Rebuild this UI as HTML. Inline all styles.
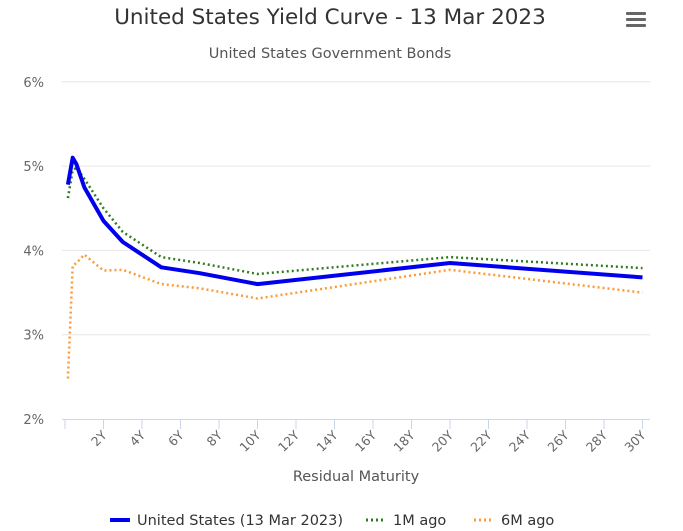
<!DOCTYPE html>
<html><head><meta charset="utf-8"><style>
body{margin:0;background:#fff;font-family:"DejaVu Sans","Liberation Sans",sans-serif}
svg{display:block}
</style></head><body>
<svg width="683" height="531" font-family="DejaVu Sans, Liberation Sans, sans-serif">
<text x="330" y="24" text-anchor="middle" font-size="21.5" fill="#333">United States Yield Curve - 13 Mar 2023</text>
<text x="330" y="58" text-anchor="middle" font-size="14.5" fill="#555">United States Government Bonds</text>
<g fill="#666">
<rect x="626" y="12" width="20" height="3" rx="1"/><rect x="626" y="18" width="20" height="3" rx="1"/><rect x="626" y="24" width="20" height="3" rx="1"/>
</g>
<g id="grid"></g><g id="xaxis"></g><g id="series"></g>
<text x="356" y="481" text-anchor="middle" font-size="14.5" fill="#555">Residual Maturity</text>
<g>
<g><line x1="110" y1="520" x2="130" y2="520" stroke="#0000ee" stroke-width="4"/><text x="137" y="525" font-size="14.5" fill="#333">United States (13 Mar 2023)</text></g>
<g><line x1="366" y1="520" x2="386" y2="520" stroke="#2e7d1e" stroke-width="3" stroke-dasharray="2,3"/><text x="393" y="525" font-size="14.5" fill="#333">1M ago</text></g>
<g><line x1="474" y1="520" x2="494" y2="520" stroke="#ff9933" stroke-width="3" stroke-dasharray="2,3"/><text x="501" y="525" font-size="14.5" fill="#333">6M ago</text></g>
</g>
</svg>
<script>
const maturities=[0.15,0.4,0.6,1,2,3,5,7,10,20,30];
const usNow=[4.78,5.1,5.02,4.75,4.35,4.1,3.8,3.73,3.6,3.85,3.68];
const us1M=[4.62,4.95,4.98,4.85,4.5,4.22,3.92,3.85,3.72,3.92,3.79];
const us6M=[2.48,3.82,3.85,3.95,3.76,3.77,3.6,3.55,3.43,3.77,3.5];
const yTicks=[2,3,4,5,6];
const xTicks=[2,4,6,8,10,12,14,16,18,20,22,24,26,28,30];
const NS="http://www.w3.org/2000/svg";
const X=v=>65+v*19.25, Y=v=>419-(v-2)*84.3;
function mk(t,a,p){const e=document.createElementNS(NS,t);for(const k in a)e.setAttribute(k,a[k]);p.appendChild(e);return e;}
const grid=document.getElementById('grid'),xa=document.getElementById('xaxis'),ser=document.getElementById('series');
yTicks.forEach(v=>{
 if(v>2){const l=mk('line',{x1:62,x2:650,y1:Y(v),y2:Y(v),stroke:'#e6e6e6'},grid);
 
 }
 const t=mk('text',{x:44,y:Y(v)+5,'text-anchor':'end','font-size':13,fill:'#666'},grid);
 t.textContent=v+'%';
 
 
});
const ax=mk('line',{x1:62,x2:650,y1:419.5,y2:419.5,stroke:'#ccd6eb'},xa);


mk('line',{x1:X(0),x2:X(0),y1:419,y2:429,stroke:'#ccd6eb'},xa);
xTicks.forEach(v=>{
 mk('line',{x1:X(v),x2:X(v),y1:419,y2:429,stroke:'#ccd6eb'},xa);
 const t=mk('text',{x:X(v)+4,y:436,'text-anchor':'end','font-size':12.5,fill:'#666',transform:`rotate(-45 ${X(v)+4} 436)`},xa);
 t.textContent=v+'Y';
 
 
});
function line(vals,color,w,dash,name){
 const d=vals.map((v,i)=>(i?'L':'M')+X(maturities[i]).toFixed(1)+','+Y(v).toFixed(1)).join('');
 const p=mk('path',{d:d,fill:'none',stroke:color,'stroke-width':w,'stroke-linejoin':'round'},ser);
 if(dash)p.setAttribute('stroke-dasharray',dash);
 
 
}
line(us6M,'#ff9933',2.5,'2,3','series-6m-ago');
line(us1M,'#2e7d1e',2.5,'2,3','series-1m-ago');
line(usNow,'#0000ee',4,null,'series-us-current');
</script>
</body></html>
